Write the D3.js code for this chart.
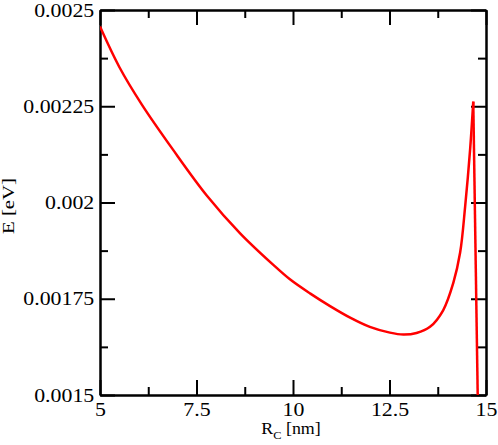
<!DOCTYPE html>
<html>
<head>
<meta charset="utf-8">
<script src="https://cdn.jsdelivr.net/npm/d3@7"></script>
<style>
  body { margin: 0; background: #fff; }
</style>
</head>
<body>
<div id="chart"></div>
<script>
var width = 498;
var height = 445;
var margin = {top: 10, right: 12, bottom: 50, left: 100};
var w = width - margin.left - margin.right;
var h = height - margin.top - margin.bottom;
var serif = "Liberation Serif, DejaVu Serif, Times New Roman, Times, serif";

// values
var rc = [5.0, 5.5, 6.08, 6.9, 7.76, 8.63, 9.49, 9.92, 10.44, 10.96, 11.48, 11.99, 12.51,
          12.86, 13.2, 13.55, 13.89, 14.15, 14.33, 14.46, 14.59, 14.67, 14.785];
var energy = [0.002457, 0.002352, 0.002255, 0.002136, 0.002019, 0.00192, 0.001838, 0.0018005,
              0.001764, 0.001731, 0.001701, 0.001677, 0.001662, 0.001657, 0.001661, 0.001677,
              0.00172, 0.00179, 0.00187, 0.00199, 0.00214, 0.002262, 0.0015];
var peakIndex = 21;

var xTicks = [5, 7.5, 10, 12.5, 15];
var xTickLabels = ["5", "7.5", "10", "12.5", "15"];
var xMinor = [6.25, 8.75, 11.25, 13.75];
var yTicks = [0.0015, 0.00175, 0.002, 0.00225, 0.0025];
var yTickLabels = ["0.0015", "0.00175", "0.002", "0.00225", "0.0025"];
var yMinor = [0.001625, 0.001875, 0.002125, 0.002375];

var svg = d3.select("#chart").append("svg")
    .attr("width", width)
    .attr("height", height)
    .append("g").attr("transform", "translate(" + margin.left + "," + margin.top + ")");

var x = d3.scaleLinear().domain([5, 15]).range([0, w]);
var y = d3.scaleLinear().domain([0.0015, 0.0025]).range([h, 0]);

var majorLen = 15, minorLen = 8;

function styleAxis(g) {
  g.attr("font-family", null);
  g.select(".domain").attr("stroke-width", 2);
  g.selectAll(".tick line").attr("stroke-width", 2);
  g.selectAll("text").attr("fill", "#000")
   .style("font-family", serif).style("font-size", "19px");
}

// bottom
svg.append("g").attr("transform", "translate(0," + h + ")")
   .call(d3.axisBottom(x).tickValues(xTicks).tickSizeInner(-majorLen).tickSizeOuter(0).tickPadding(8)
        .tickFormat(function(d, i) { return xTickLabels[i]; }))
   .call(styleAxis)
   .selectAll("text").attr("transform", "scale(1.15,1)");
svg.append("g").attr("transform", "translate(0," + h + ")")
   .call(d3.axisBottom(x).tickValues(xMinor).tickSizeInner(-minorLen).tickSizeOuter(0).tickFormat(""))
   .call(styleAxis);

// top
svg.append("g")
   .call(d3.axisTop(x).tickValues(xTicks).tickSizeInner(-majorLen).tickSizeOuter(0).tickFormat(""))
   .call(styleAxis);
svg.append("g")
   .call(d3.axisTop(x).tickValues(xMinor).tickSizeInner(-minorLen).tickSizeOuter(0).tickFormat(""))
   .call(styleAxis);

// left
svg.append("g")
   .call(d3.axisLeft(y).tickValues(yTicks).tickSizeInner(-majorLen).tickSizeOuter(0).tickPadding(5)
        .tickFormat(function(d, i) { return yTickLabels[i]; }))
   .call(styleAxis)
   .selectAll("text").attr("transform", "scale(1.15,1)");
svg.append("g")
   .call(d3.axisLeft(y).tickValues(yMinor).tickSizeInner(-minorLen).tickSizeOuter(0).tickFormat(""))
   .call(styleAxis);

// right
svg.append("g").attr("transform", "translate(" + w + ",0)")
   .call(d3.axisRight(y).tickValues(yTicks).tickSizeInner(-majorLen).tickSizeOuter(0).tickFormat(""))
   .call(styleAxis);
svg.append("g").attr("transform", "translate(" + w + ",0)")
   .call(d3.axisRight(y).tickValues(yMinor).tickSizeInner(-minorLen).tickSizeOuter(0).tickFormat(""))
   .call(styleAxis);

// curve: smooth part up to the peak, then the straight drop
svg.append("clipPath").attr("id", "clip")
   .append("rect").attr("width", w).attr("height", h);

var pts = rc.map(function(r, i) { return [r, energy[i]]; });

var smooth = d3.line()
    .x(function(d) { return x(d[0]); })
    .y(function(d) { return y(d[1]); })
    .curve(d3.curveCatmullRom.alpha(0.5));
var straight = d3.line()
    .x(function(d) { return x(d[0]); })
    .y(function(d) { return y(d[1]); });

var curveG = svg.append("g").attr("clip-path", "url(#clip)");
curveG.append("path")
   .datum(pts.slice(0, peakIndex + 1))
   .attr("fill", "none")
   .attr("stroke", "#ff0000")
   .attr("stroke-width", 2.5)
   .attr("stroke-linejoin", "round")
   .attr("d", smooth);
curveG.append("path")
   .datum(pts.slice(peakIndex))
   .attr("fill", "none")
   .attr("stroke", "#ff0000")
   .attr("stroke-width", 2.5)
   .attr("d", straight);

// axis titles
var xt = svg.append("text")
   .attr("transform", "translate(" + (w / 2 - 2) + "," + (h + 39) + ") scale(1.12,1)")
   .attr("text-anchor", "middle")
   .style("font-family", serif)
   .style("font-size", "16px");
xt.append("tspan").text("R");
xt.append("tspan").style("font-size", "11px").attr("dy", 5).text("C");
xt.append("tspan").attr("dy", -5).text(" [nm]");

svg.append("text")
   .attr("transform", "translate(" + (13.5 - margin.left) + "," + (206 - margin.top) + ") rotate(-90) scale(1.3,1)")
   .attr("text-anchor", "middle")
   .style("font-family", serif)
   .style("font-size", "16px")
   .text("E [eV]");
</script>
</body>
</html>
